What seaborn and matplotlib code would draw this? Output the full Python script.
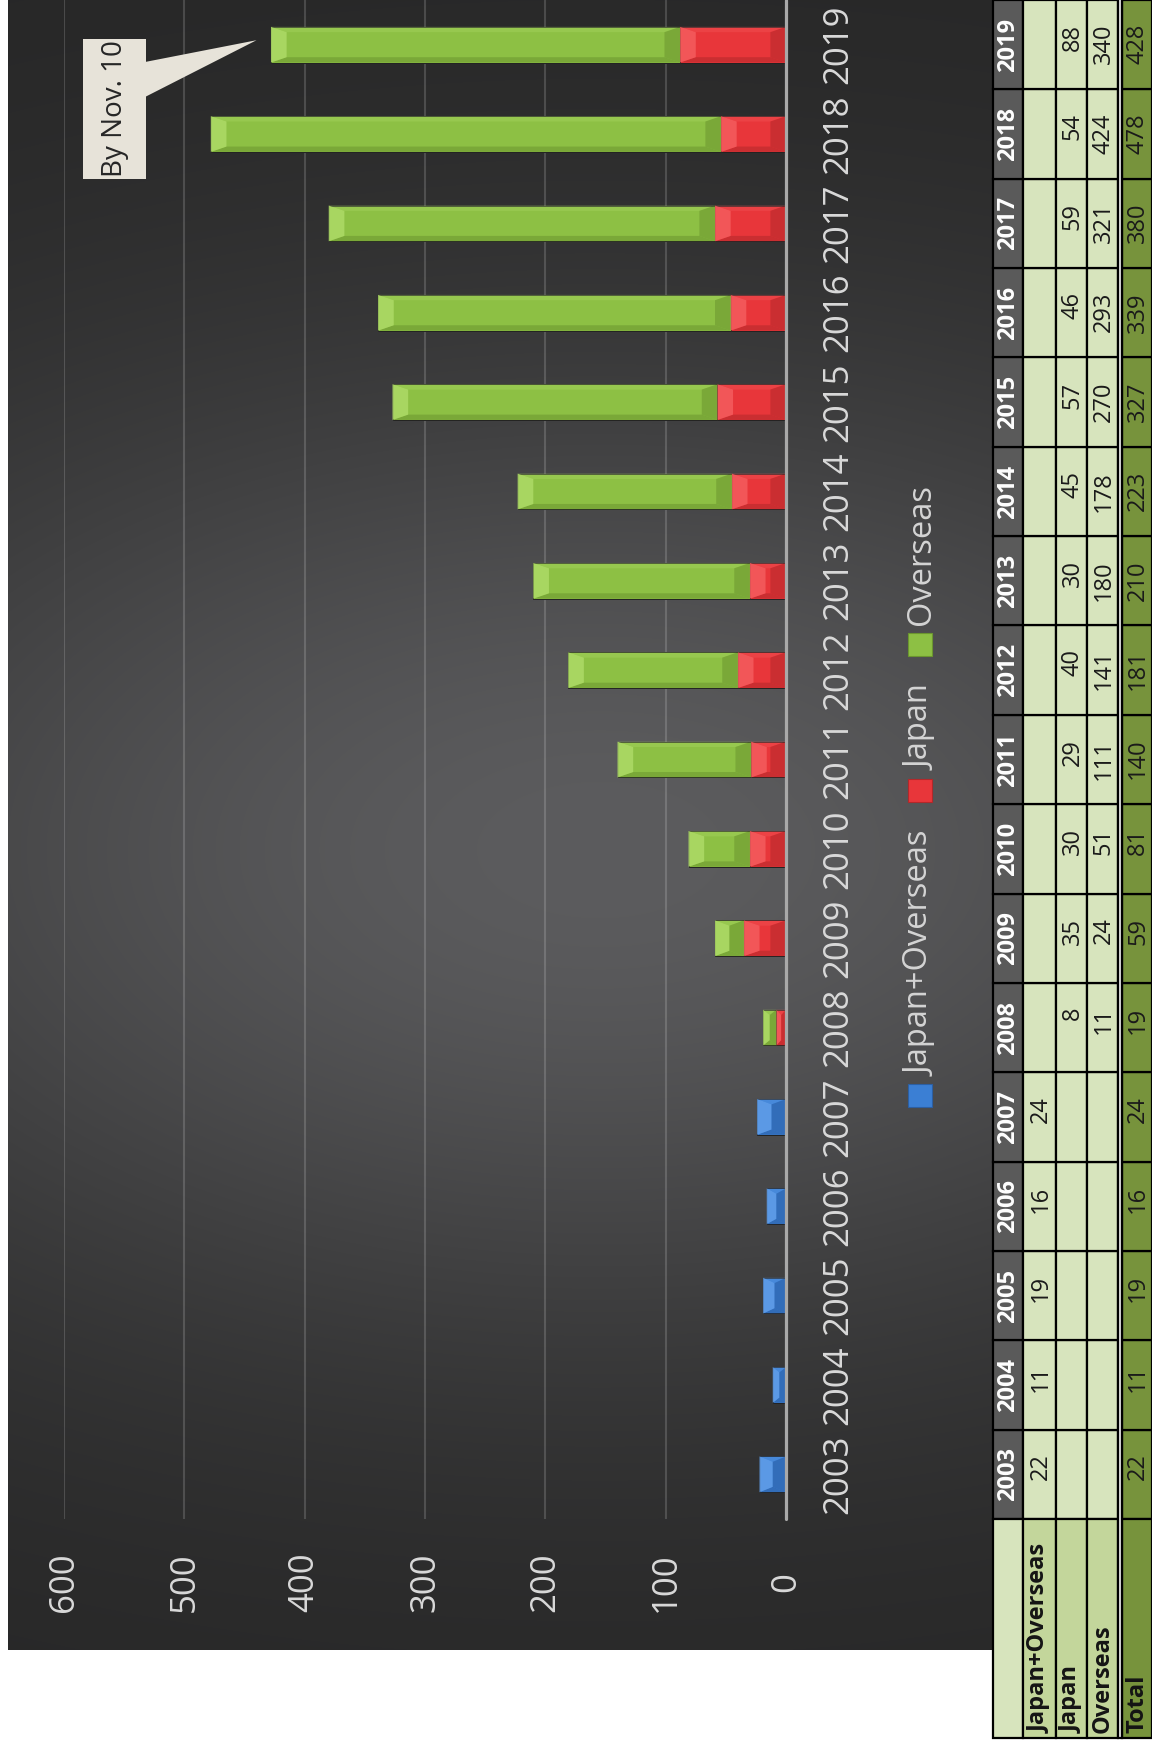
import numpy as np
import pandas as pd
import matplotlib
matplotlib.use("Agg")
import matplotlib.pyplot as plt
from matplotlib.patches import Rectangle, Polygon
import seaborn as sns

# ---- data -------------------------------------------------------------
years = [2003, 2004, 2005, 2006, 2007, 2008, 2009, 2010, 2011,
         2012, 2013, 2014, 2015, 2016, 2017, 2018, 2019]
japan_overseas = [22, 11, 19, 16, 24, None, None, None, None,
                  None, None, None, None, None, None, None, None]
japan = [None, None, None, None, None, 8, 35, 30, 29,
         40, 30, 45, 57, 46, 59, 54, 88]
overseas = [None, None, None, None, None, 11, 24, 51, 111,
            141, 180, 178, 270, 293, 321, 424, 340]
total = [22, 11, 19, 16, 24, 19, 59, 81, 140,
         181, 210, 223, 327, 339, 380, 478, 428]
value_ticks = [0, 100, 200, 300, 400, 500, 600]
series_labels = ["Japan+Overseas", "Japan", "Overseas"]
note_text = "By Nov. 10"

# ---- style ------------------------------------------------------------
W, H = 1152, 1746
sns.set_theme(style="dark")
plt.rcParams["font.family"] = ["Open Sans", "DejaVu Sans"]

GREEN = ("#8dc044", "#acd965", "#6b962f")
RED = ("#e8363a", "#f45a5c", "#b3282a")
BLUE = ("#3b7fd4", "#5f9de8", "#2c5fa3")
TICK_GREY = "#d9d9d9"

fig = plt.figure(figsize=(W / 100, H / 100), dpi=100, facecolor="white")

# dark chart backdrop with a soft light centre
bg = fig.add_axes([8 / W, 1 - 1650 / H, 985 / W, 1650 / H])
gx = np.arange(8, 993) + 0.5
gy = np.arange(0, 1650) + 0.5
GX, GY = np.meshgrid(gx, gy)
glow = np.exp(-((GX - 600) / 900) ** 2) * np.exp(-((GY - 850) / 500) ** 2)
lo = np.array([38, 38, 38]) / 255
hi = np.array([92, 92, 94]) / 255
bg.imshow(lo + (hi - lo) * glow[..., None], extent=(0, 1, 0, 1),
          aspect="auto", origin="upper", interpolation="bilinear")
bg.set_axis_off()

# ---- bars -------------------------------------------------------------
ax = fig.add_axes([64 / W, 1 - 1519 / H, 722 / W, 1519 / H])
ax.set_facecolor("none")

order = [str(y) for y in years[::-1]]
df = pd.DataFrame({
    "Year": [str(y) for y in years],
    "JO": pd.array(japan_overseas, dtype="Float64").astype(float),
    "Japan": pd.array(japan, dtype="Float64").astype(float),
    "Overseas": pd.array(overseas, dtype="Float64").astype(float),
    "Total": total,
})
by_year = df.set_index("Year")


def draw_series(col, color):
    sub = df.dropna(subset=[col])
    n0 = len(ax.patches)
    sns.barplot(data=sub, x=col, y="Year", order=order, orient="h",
                color=color, saturation=1, width=0.4, errorbar=None,
                ax=ax, zorder=3, edgecolor="#222222", linewidth=0.7)
    return [p for p in ax.patches[n0:] if np.isfinite(p.get_width())]


def bevel(patch, cols):
    """Soft bevel: lit outer end and top edge, shaded inner end and bottom."""
    base, light, dark = cols
    x0, y0 = patch.get_x(), patch.get_y()
    w, h = patch.get_width(), patch.get_height()
    if w <= 0:
        return
    bx = min(13.0, w / 2)
    by = min(0.06, h / 2)
    x1, y1 = x0 + w, y0 + h
    faces = [
        ([(x0, y0), (x1, y0), (x1 - bx, y0 + by), (x0 + bx, y0 + by)], light, 0.35),
        ([(x0, y1), (x1, y1), (x1 - bx, y1 - by), (x0 + bx, y1 - by)], dark, 0.55),
        ([(x1, y0), (x1, y1), (x1 - bx, y1 - by), (x1 - bx, y0 + by)], light, 0.9),
        ([(x0, y0), (x0, y1), (x0 + bx, y1 - by), (x0 + bx, y0 + by)], dark, 0.55),
    ]
    for pts, c, a in faces:
        ax.add_patch(Polygon(pts, closed=True, fc=c, ec="none", alpha=a,
                             zorder=3.5))


blue_bars = draw_series("JO", BLUE[0])
red_bars = draw_series("Japan", RED[0])
green_bars = draw_series("Overseas", GREEN[0])

# overseas segments sit on top of the Japan segment
for p in green_bars:
    pos = int(round(p.get_y() + p.get_height() / 2))
    p.set_x(by_year.loc[order[pos], "Japan"])

for group, cols in ((blue_bars, BLUE), (red_bars, RED), (green_bars, GREEN)):
    for p in group:
        bevel(p, cols)

ax.set_xlabel("")
ax.set_ylabel("")
ax.set_xlim(600, 0)
ax.set_ylim(len(order) - 0.5, -0.5)
ax.set_xticks(value_ticks)
ax.set_xticklabels([str(v) for v in value_ticks])
ax.xaxis.grid(True, color="white", alpha=0.16, lw=1.5)
ax.yaxis.grid(False)
ax.set_axisbelow(True)
for s in ax.spines.values():
    s.set_visible(False)
ax.axvline(0, color="#a9a9a9", lw=2.3, zorder=4, clip_on=False)

ax.tick_params(axis="x", length=0, pad=45.7, labelsize=25,
               labelcolor=TICK_GREY, labelrotation=90)
ax.yaxis.tick_right()
ax.tick_params(axis="y", length=0, pad=37.8, labelsize=25,
               labelcolor=TICK_GREY, labelrotation=90)
for t in ax.get_xticklabels():
    t.set_va("center")
for t in ax.get_yticklabels():
    t.set_ha("center")
    t.set_va("center")

# ---- overlay in pixel coordinates (legend, note, table) ---------------
ov = fig.add_axes([0, 0, 1, 1])
ov.set_xlim(0, W)
ov.set_ylim(H, 0)
ov.set_axis_off()


def to_px(x, y):
    return ov.transData.inverted().transform(ax.transData.transform((x, y)))


fig.canvas.draw()
renderer = fig.canvas.get_renderer()

# legend, stacked bottom-to-top
y_cursor = 1107
for label, cols in zip(series_labels, (BLUE, RED, GREEN)):
    ov.add_patch(Rectangle((908, y_cursor - 23), 24, 23, fc=cols[0],
                           ec=cols[2], lw=0.8))
    t = ov.text(921, y_cursor - 31, label, rotation=90, ha="center",
                va="bottom", fontsize=23.5, color="#d4d4d4")
    bb = t.get_window_extent(renderer)
    y_cursor = y_cursor - 31 - bb.height - 30

# note callout for the partial-year bar
tip = to_px(total[-1] + 12, order.index(str(years[-1])) - 0.05)
ov.add_patch(Polygon([(145, 62), tuple(tip), (145, 97)], closed=True,
                     fc="#e7e3d9", ec="none", zorder=5))
ov.add_patch(Rectangle((83, 39), 63, 140, fc="#e7e3d9", ec="none", zorder=5))
ov.text(115, 109, note_text, rotation=90, ha="center", va="center",
        fontsize=20, color="#262626", zorder=6)

# data table
CELL = "#d7e4bd"
LABEL_CELL = "#c3d69b"
TOTAL_CELL = "#77933c"
HEAD_CELL = "#5a5a5a"
cols_x = [("year", 993, 1023), ("JO", 1023, 1056), ("Japan", 1056, 1087),
          ("Overseas", 1087, 1118), ("Total", 1122, 1152)]
lw_tab = 1.6
table_bottom = 1738

for i, yr in enumerate(years):
    pos = order.index(str(yr))
    top = to_px(0, pos - 0.5)[1]
    bot = to_px(0, pos + 0.5)[1]
    row_vals = {"JO": japan_overseas[i], "Japan": japan[i],
                "Overseas": overseas[i], "Total": total[i]}
    for key, x0, x1 in cols_x:
        if key == "year":
            fc = HEAD_CELL
        elif key == "Total":
            fc = TOTAL_CELL
        else:
            fc = CELL
        ov.add_patch(Rectangle((x0, top), x1 - x0, bot - top, fc=fc,
                               ec="black", lw=lw_tab, zorder=6))
        xc = (x0 + x1) / 2
        if key == "year":
            ov.text(xc, (top + bot) / 2, str(yr), rotation=90, ha="center",
                    va="center", fontsize=17, fontweight="bold",
                    color="white", zorder=7)
        elif row_vals[key] is not None:
            ov.text(xc + 1, top + 24, str(row_vals[key]), rotation=90,
                    ha="center", va="top", fontsize=17, color="#1a1a1a",
                    zorder=7)

# row-label band below the year rows
band_top = to_px(0, len(order) - 0.5)[1]
row_names = [("year", ""), ("JO", "Japan+Overseas"), ("Japan", "Japan"),
             ("Overseas", "Overseas"), ("Total", "Total")]
for (key, x0, x1), (_, name) in zip(cols_x, row_names):
    if key == "year":
        fc = CELL
    elif key == "Total":
        fc = TOTAL_CELL
    else:
        fc = LABEL_CELL
    ov.add_patch(Rectangle((x0, band_top), x1 - x0, table_bottom - band_top,
                           fc=fc, ec="black", lw=lw_tab, zorder=6))
    if name:
        ov.text((x0 + x1) / 2, table_bottom - 5, name, rotation=90,
                ha="center", va="bottom", fontsize=17, fontweight="bold",
                color="#141414", zorder=7)

# double rule before the totals column
ov.add_patch(Rectangle((1118, -5), 4, table_bottom + 5, fc="#e6e6e6",
                       ec="black", lw=lw_tab, zorder=6))

fig.savefig("out.png", dpi=100, facecolor="white")
